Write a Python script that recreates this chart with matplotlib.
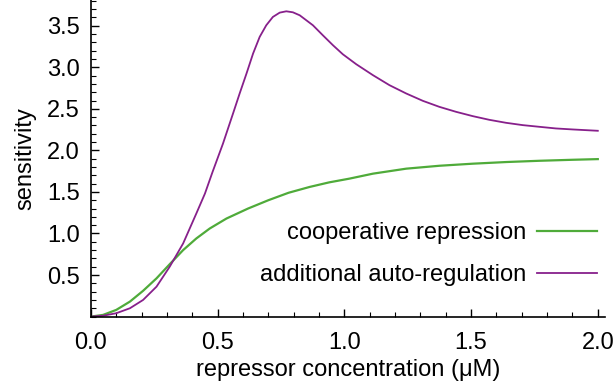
import matplotlib
matplotlib.use('Agg')
import matplotlib.pyplot as plt
from matplotlib.ticker import MultipleLocator

# values
concGreen = [0, 0.048, 0.10, 0.154, 0.206, 0.259, 0.311, 0.364, 0.416, 0.469, 0.535,
             0.62, 0.70, 0.78, 0.863, 0.94, 1.02, 1.113, 1.244, 1.375, 1.507, 1.64,
             1.77, 1.90, 2.00]
cooperative = [0, 0.02, 0.08, 0.18, 0.31, 0.46, 0.63, 0.80, 0.94, 1.06, 1.18,
               1.30, 1.40, 1.49, 1.56, 1.615, 1.66, 1.72, 1.78, 1.815, 1.84, 1.86,
               1.875, 1.887, 1.895]

concPurple = [0, 0.048, 0.10, 0.154, 0.206, 0.259, 0.311, 0.364, 0.416, 0.45, 0.48,
              0.521, 0.561, 0.587, 0.614, 0.640, 0.666, 0.692, 0.718, 0.745, 0.771,
              0.797, 0.824, 0.850, 0.876, 0.915, 0.955, 0.994, 1.047, 1.113, 1.178,
              1.244, 1.310, 1.375, 1.441, 1.507, 1.572, 1.638, 1.704, 1.769, 1.835,
              1.901, 2.00]
autoReg = [0, 0.01, 0.04, 0.10, 0.20, 0.36, 0.60, 0.88, 1.24, 1.48, 1.74,
           2.08, 2.445, 2.685, 2.925, 3.166, 3.366, 3.506, 3.606, 3.658, 3.674,
           3.662, 3.626, 3.566, 3.506, 3.386, 3.266, 3.157, 3.037, 2.905, 2.785,
           2.685, 2.596, 2.524, 2.464, 2.412, 2.368, 2.332, 2.304, 2.284, 2.264,
           2.252, 2.236]

seriesNames = ['cooperative repression', 'additional auto-regulation']
GREEN = '#4fab3a'
PURPLE = '#87208b'

plt.rcParams['font.family'] = ['Liberation Sans', 'DejaVu Sans']

fig = plt.figure(figsize=(6.14, 3.87), dpi=100)
ax = fig.add_axes([0.148, 0.182, 0.838, 0.818])

ax.plot(concGreen, cooperative, color=GREEN, lw=1.6, label=seriesNames[0])
ax.plot(concPurple, autoReg, color=PURPLE, lw=1.3, label=seriesNames[1])

ax.set_xlim(0, 2.03)
ax.set_ylim(0, 3.81)
ax.xaxis.set_minor_locator(MultipleLocator(0.1))
ax.yaxis.set_minor_locator(MultipleLocator(0.1))
ax.set_xticks([0, 0.5, 1.0, 1.5, 2.0])
ax.set_xticklabels(['0.0', '0.5', '1.0', '1.5', '2.0'])
ax.set_yticks([0.5, 1.0, 1.5, 2.0, 2.5, 3.0, 3.5])
ax.set_yticklabels(['0.5', '1.0', '1.5', '2.0', '2.5', '3.0', '3.5'])
ax.tick_params(which='major', direction='in', length=6, width=1, labelsize=17)
ax.tick_params(axis='y', which='major', pad=8)
ax.tick_params(axis='x', which='major', pad=11)
ax.tick_params(which='minor', direction='in', length=3.5, width=0.8)

for side in ['top', 'right']:
    ax.spines[side].set_visible(False)
for side in ['left', 'bottom']:
    ax.spines[side].set_linewidth(1.2)

ax.set_xlabel('repressor concentration (μM)', fontsize=17, labelpad=4)
ax.set_ylabel('sensitivity', fontsize=17, labelpad=8)

ax.legend(loc='lower right', bbox_to_anchor=(1.025, 0.03), frameon=False, markerfirst=False,
          fontsize=17, handlelength=2.55, labelspacing=0.83, handletextpad=0.45)

fig.savefig('out.png', dpi=100)
